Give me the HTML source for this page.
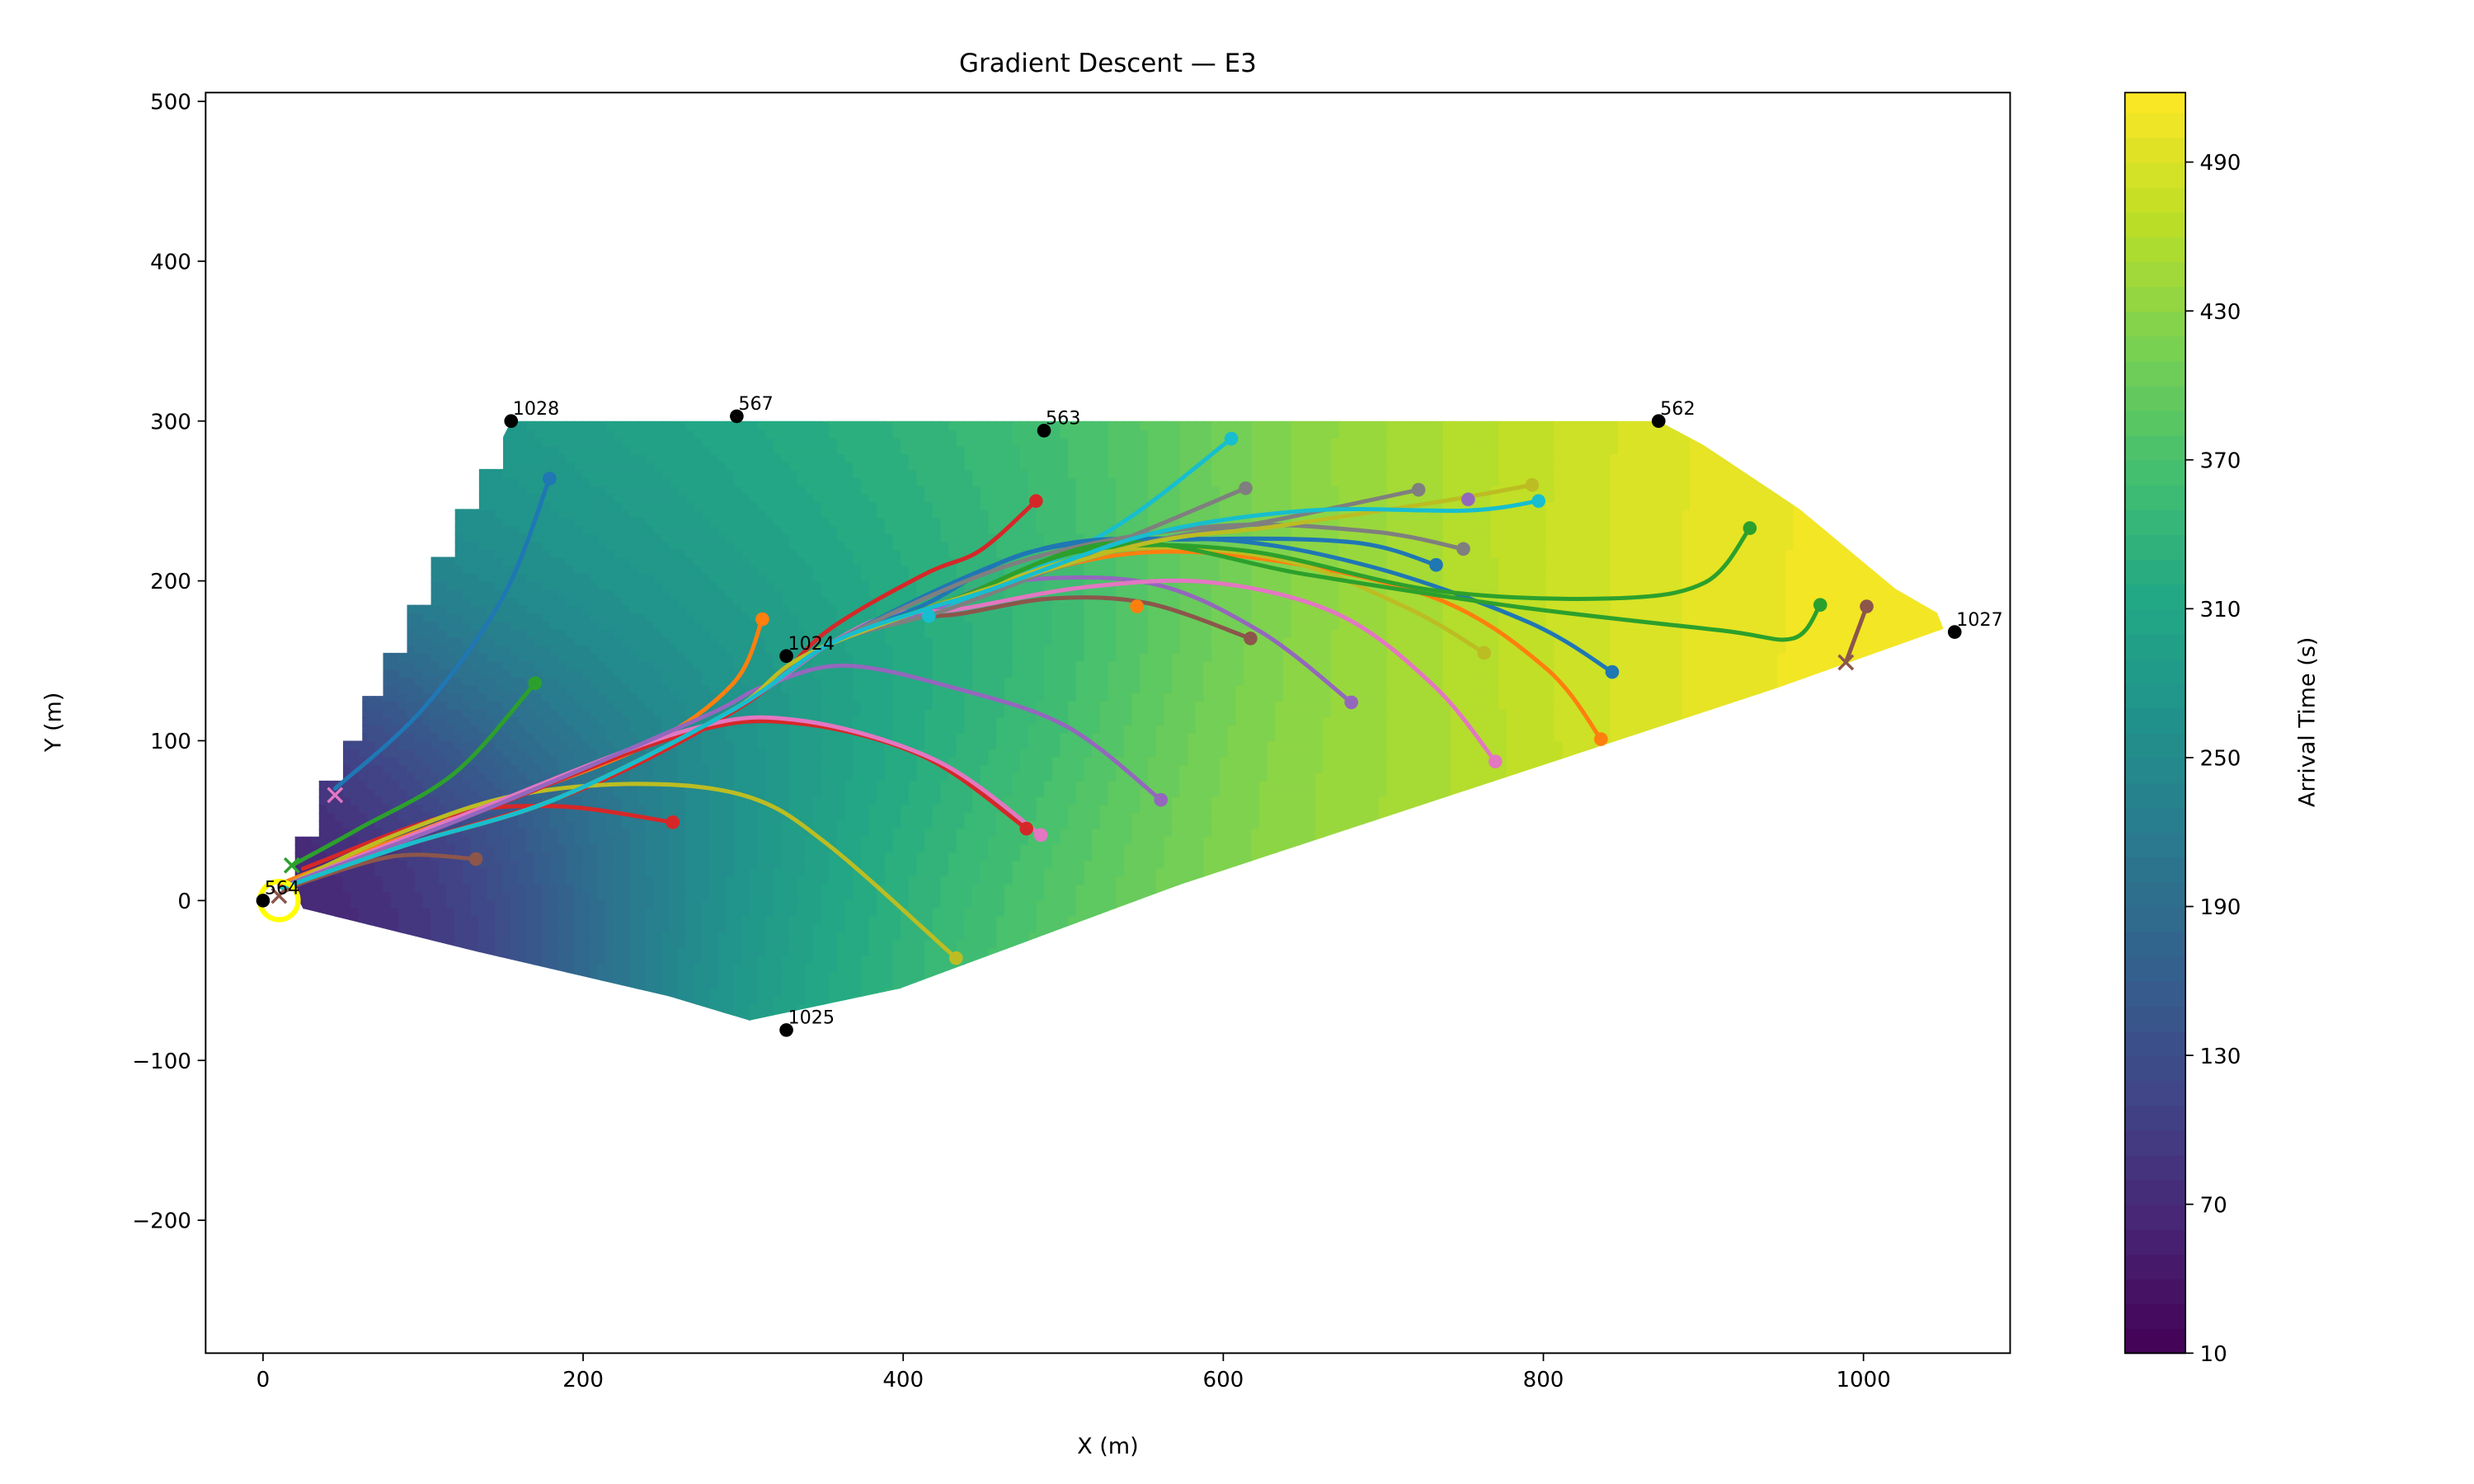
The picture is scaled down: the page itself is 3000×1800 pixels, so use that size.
<!DOCTYPE html>
<html><head><meta charset="utf-8"><title>Gradient Descent — E3</title>
<style>html,body{margin:0;padding:0;background:#fff}svg{display:block}text{font-family:"DejaVu Sans","Liberation Sans",sans-serif}</style>
</head><body>
<svg id="chart" xmlns="http://www.w3.org/2000/svg" width="3000" height="1800" viewBox="0 0 1552 931">
<rect x="0" y="0" width="1552" height="931" fill="#fff"/>
<text x="695" y="45" font-size="16" text-anchor="middle">Gradient Descent — E3</text>
<defs><clipPath id="plotclip"><rect x="129" y="58" width="1132" height="791"/></clipPath>
<clipPath id="regionclip"><polygon id="regionpoly" points=""/></clipPath></defs>
<g id="field" clip-path="url(#regionclip)"></g>
<g id="traj" clip-path="url(#plotclip)"></g>
<g id="stations"></g>
<rect x="129" y="58" width="1132" height="791" fill="none" stroke="#000" stroke-width="1"/>
<g id="axes"></g>
<text x="695" y="912" font-size="14" text-anchor="middle">X (m)</text>
<text x="0" y="0" font-size="14" text-anchor="middle" transform="translate(38,453) rotate(-90)">Y (m)</text>
<g id="cbar"></g>
<text x="0" y="0" font-size="14" text-anchor="middle" transform="translate(1452,453) rotate(-90)">Arrival Time (s)</text>
</svg>
<script>
const NS="http://www.w3.org/2000/svg";
const X0=165, XS=1.004, Y0=565, YS=1.003;
function sx(x){return X0+x*XS;}
function sy(y){return Y0-y*YS;}
const xTicks=[0,200,400,600,800,1000];
const yTicks=[-200,-100,0,100,200,300,400,500];
const cbTicks=[10,70,130,190,250,310,370,430,490];
const tMin=10, tMax=518;
// arrival-time samples [x, y, t]
const fieldX=[0,30,100,200,330,430,550,700,900,1040,950,800,650,500,300,160,140,80,50,300,450,600,750,500,250,400,20,60,880,1000,200,400,400,500,300,200,100,600,700,850,1050,650,120,160,230];
const fieldY=[0,-10,-20,-40,-75,-40,-10,60,140,170,270,290,290,290,300,290,200,100,50,150,100,150,200,200,50,0,30,0,260,200,150,150,250,0,0,250,200,-20,250,200,170,100,240,270,290];
const fieldT=[10,40,90,190,320,390,430,470,500,515,510,470,420,370,340,310,240,130,80,260,320,400,450,360,220,330,30,70,505,512,230,300,340,380,270,300,210,440,450,490,518,440,260,300,330];
const regionX=[25,20,20,35,35,50,50,62,62,75,75,90,90,105,105,120,120,135,135,150,150,155,872,900,930,960,996,1020,1046,1050,946,573,398,304,254,134,25];
const regionY=[-5,5,40,40,75,75,100,100,128,128,155,155,185,185,215,215,245,245,270,270,290,300,300,285,265,245,215,195,180,170,133,10,-55,-75,-60,-32,-5];
const stX=[0,155,296,488,327,327,872,1057];
const stY=[0,300,303,294,153,-81,300,168];
const stLabel=["564","1028","567","563","1024","1025","562","1027"];
const tab={blue:"#1f77b4",orange:"#ff7f0e",green:"#2ca02c",red:"#d62728",purple:"#9467bd",brown:"#8c564b",pink:"#e377c2",grey:"#7f7f7f",olive:"#bcbd22",cyan:"#17becf"};
const tail=[[353,160],[293,119],[184,64],[90,35],[12,8]];
const trajColor=["blue","green","orange","red","cyan","red","brown","olive","red","pink","purple","brown","purple","pink","orange","olive","blue","blue","grey","green","green","brown","grey","grey","olive","cyan"];
const trajPts=[
 [[179,264],[150,190],[100,120],[45,70]],
 [[170,136],[120,80],[60,45],[18,22]],
 [[312,176],[293,135],[235,95],[120,52],[35,20],[10,10]],
 [[483,250],[448,219],[413,204],[353,169],[303,124],[200,70],[90,35],[12,8]],
 [[605,289],[533,234],[453,194],[413,179]],
 [[256,49],[184,59],[115,53],[25,20]],
 [[133,26],[84,28],[30,13],[12,5]],
 [[433,-36],[353,35],[303,65],[234,73],[154,65],[80,40],[15,10]],
 [[477,45],[413,90],[333,111],[263,104],[134,55],[15,10]],
 [[486,41],[420,88],[333,113],[263,106],[134,57],[15,10]],
 [[561,63],[502,109],[432,133],[363,147],[313,134],[273,114],[134,55],[15,10]],
 [[617,164],[553,186],[493,189],[433,179],[393,176]],
 [[680,124],[622,169],[552,199],[463,199],[413,179]],
 [[770,87],[732,134],[672,179],[593,199],[513,196],[433,182],[393,179]],
 [[836,101],[802,145],[733,189],[623,214],[533,216],[433,189]],
 [[763,155],[713,184],[633,214],[533,219],[433,189]],
 [[843,143],[791,174],[692,209],[593,226],[483,219],[413,185]],
 [[733,210],[682,224],[583,226],[483,219]],
 [[750,220],[692,231],[593,234],[473,212]],
 [[929,233],[901,199],[842,189],[732,194],[613,219],[513,219],[433,189]],
 [[973,185],[956,164],[911,169],[782,184],[652,204],[533,224],[433,189]],
 [[1002,184],[989,149]],
 [[614,258],[533,224],[433,184]],
 [[722,257],[632,238],[533,219]],
 [[793,260],[732,249],[632,234],[533,219]],
 [[797,250],[752,244],[653,244],[553,229],[453,194],[413,182]]
];
const tailIdx=[4,11,12,13,14,15,16,17,18,19,20,22,23,24,25];
const extraDotX=[546,416,753];
const extraDotY=[184,178,251];
const extraDotC=["orange","cyan","purple"];
const endMarkX=[45,18,989,10];
const endMarkY=[66,22,149,3];
const endMarkC=["pink","green","brown","brown"];

const vir=["#440154","#482475","#414487","#355f8d","#2a788e","#21918c","#22a884","#44bf70","#7ad151","#bddf26","#fde725"];
function hex(h){return[parseInt(h.substr(1,2),16),parseInt(h.substr(3,2),16),parseInt(h.substr(5,2),16)];}
function cmap(t){let u=Math.max(0,Math.min(1,(t-tMin)/(tMax-tMin)))*(vir.length-1);let i=Math.min(vir.length-2,Math.floor(u));let f=u-i;let a=hex(vir[i]),b=hex(vir[i+1]);return"rgb("+a.map((v,k)=>Math.round(v+(b[k]-v)*f)).join(",")+")";}
function el(tag,attrs,parent){const e=document.createElementNS(NS,tag);for(const k in attrs)e.setAttribute(k,attrs[k]);parent.appendChild(e);return e;}

document.getElementById("regionpoly").setAttribute("points",regionX.map((x,i)=>sx(x)+","+sy(regionY[i])).join(" "));
const field=document.getElementById("field");
const cs=5;
const sig2=2*90*90;
function smooth(x,y){let n=0,d=0;for(let i=0;i<fieldX.length;i++){const dx=x-fieldX[i],dy=y-fieldY[i];const w=Math.exp(-(dx*dx+dy*dy)/sig2)+1e-9;n+=w*fieldT[i];d+=w;}return n/d;}
for(let px=180;px<1225;px+=cs){for(let py=260;py<650;py+=cs){
 const x=(px+cs/2-X0)/XS,y=(Y0-(py+cs/2))/YS;
 let t=smooth(x,y);t=Math.round(t/10)*10;
 const r=el("rect",{x:px,y:py,width:cs+0.6,height:cs+0.6,fill:cmap(t)},field);
 
 
}}
function pathD(pts){const p=pts.map(q=>[sx(q[0]),sy(q[1])]);let d="M"+p[0][0]+","+p[0][1];for(let i=0;i<p.length-1;i++){const p0=p[Math.max(0,i-1)],p1=p[i],p2=p[i+1],p3=p[Math.min(p.length-1,i+2)];const c1=[p1[0]+(p2[0]-p0[0])/6,p1[1]+(p2[1]-p0[1])/6],c2=[p2[0]-(p3[0]-p1[0])/6,p2[1]-(p3[1]-p1[1])/6];d+=" C"+c1.join(",")+" "+c2.join(",")+" "+p2.join(",");}return d;}
const traj=document.getElementById("traj");
trajPts.forEach((pts,i)=>{
 let full=pts.slice();
 if(tailIdx.includes(i))full=full.concat(tail);
 const c=tab[trajColor[i]];
 const p=el("path",{d:pathD(full),fill:"none",stroke:c,"stroke-width":2.6,"stroke-linecap":"round"},traj);
 
 
});
trajPts.forEach((pts,i)=>{
 const c=tab[trajColor[i]];
 const d=el("circle",{cx:sx(pts[0][0]),cy:sy(pts[0][1]),r:4.3,fill:c},traj);
 
 
});
extraDotX.forEach((x,i)=>{
 const d=el("circle",{cx:sx(x),cy:sy(extraDotY[i]),r:4.3,fill:tab[extraDotC[i]]},traj);
 
 
});
endMarkX.forEach((x,i)=>{
 const cx=sx(x),cy=sy(endMarkY[i]),s=4.5;
 const g=el("path",{d:`M${cx-s},${cy-s}L${cx+s},${cy+s}M${cx-s},${cy+s}L${cx+s},${cy-s}`,stroke:tab[endMarkC[i]],"stroke-width":1.8,fill:"none"},traj);
 
 
});
const st=document.getElementById("stations");
const src=el("circle",{cx:sx(10),cy:sy(0),r:12,fill:"none",stroke:"#ffff00","stroke-width":3.2},st);


stX.forEach((x,i)=>{
 const c=el("circle",{cx:sx(x),cy:sy(stY[i]),r:4.3,fill:"#000"},st);
 
 
 const t=el("text",{x:sx(x)+1,y:sy(stY[i])-4,"font-size":"11.5"},st);
 t.textContent=stLabel[i];
 
 
});
const ax=document.getElementById("axes");
xTicks.forEach(v=>{
 const x=sx(v);
 const l=el("line",{x1:x,x2:x,y1:849,y2:854,stroke:"#000","stroke-width":0.9},ax);
 
 
 const t=el("text",{x:x,y:870,"font-size":"13.5","text-anchor":"middle"},ax);
 t.textContent=v<0?"\u2212"+(-v):String(v);
 
 
});
yTicks.forEach(v=>{
 const y=sy(v);
 const l=el("line",{x1:124,x2:129,y1:y,y2:y,stroke:"#000","stroke-width":0.9},ax);
 
 
 const t=el("text",{x:120,y:y+5,"font-size":"13.5","text-anchor":"end"},ax);
 t.textContent=v<0?"\u2212"+(-v):String(v);
 
 
});
const cb=document.getElementById("cbar");
const cbTop=58,cbBot=849,cbL=1333,cbW=38;
function cy(t){return cbBot-(t-tMin)/(tMax-tMin)*(cbBot-cbTop);}
for(let t=tMin;t<tMax;t+=10){
 const r=el("rect",{x:cbL,y:cy(Math.min(t+10,tMax)),width:cbW,height:cy(t)-cy(Math.min(t+10,tMax))+0.5,fill:cmap(t+5)},cb);
 
 
}
const fr=el("rect",{x:cbL,y:cbTop,width:cbW,height:cbBot-cbTop,fill:"none",stroke:"#000","stroke-width":0.9},cb);


cbTicks.forEach(v=>{
 const y=cy(v);
 const l=el("line",{x1:cbL+cbW,x2:cbL+cbW+5,y1:y,y2:y,stroke:"#000","stroke-width":0.9},cb);
 
 
 const t=el("text",{x:cbL+cbW+9,y:y+5,"font-size":"13.5"},cb);
 t.textContent=String(v);
 
 
});
</script>
</body></html>
